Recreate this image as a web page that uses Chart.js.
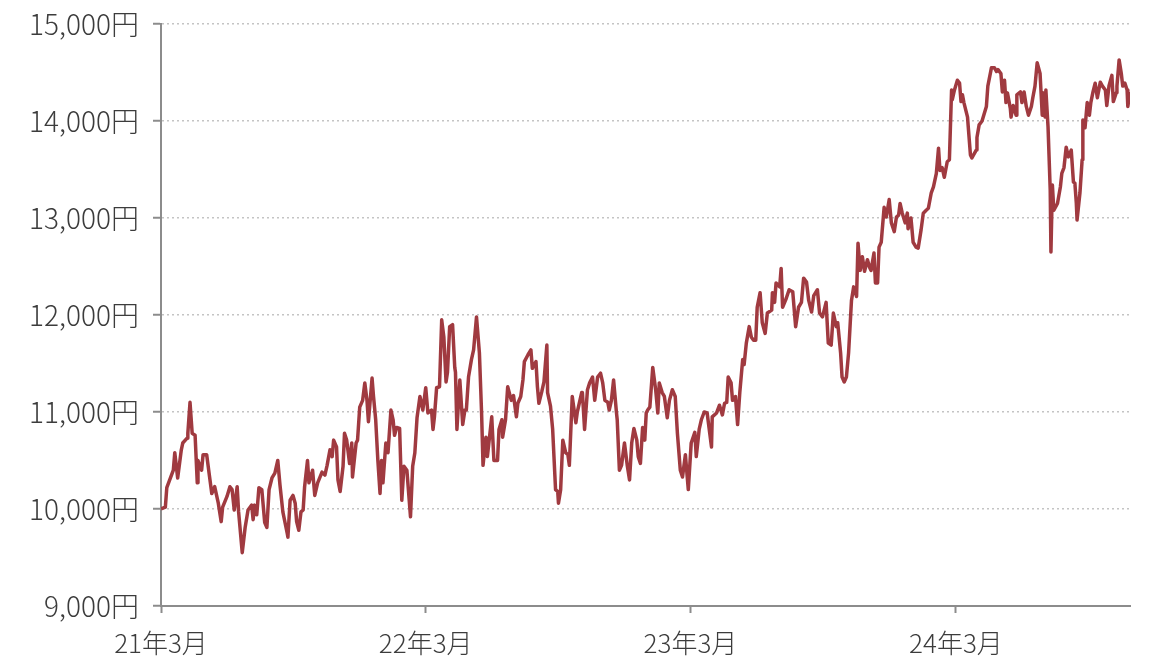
<!DOCTYPE html>
<html lang="ja">
<head>
<meta charset="utf-8">
<title>基準価額の推移</title>
<script src="https://cdn.jsdelivr.net/npm/chart.js@4.4.1/dist/chart.umd.min.js"></script>
<style>
  html, body { margin: 0; padding: 0; background: #fff; }
  #wrap { width: 1171px; height: 665px; position: relative; }
</style>
</head>
<body>
<div id="wrap"><canvas id="myChart"></canvas></div>
<script>
// days since 2021-03 start
const days = [
  0,6,8,12,17,19,23,28,30,36,37,40,43,47,50,51,56,58,63,67,70,74,79,83,85,91,95,98,101,105,107,112,116,120,125,127,129,132,135,139,143,146,149,153,157,161,164,168,174,175,178,182,185,187,190,193,196,198,202,204,208,209,212,216,222,226,
  229,233,236,238,242,244,247,251,253,256,260,263,264,269,271,274,278,281,284,286,291,293,296,299,302,304,306,310,313,317,320,322,325,329,332,335,339,344,347,350,353,357,361,365,368,373,375,377,380,384,387,390,393,395,398,402,405,406,408,412,416,419,421,424,428,431,435,439,442,444,448,450,
  456,459,464,466,470,471,475,478,483,486,490,492,496,499,501,506,510,512,517,519,521,525,528,532,533,537,540,544,547,548,551,554,558,561,563,567,572,574,580,581,584,588,591,595,598,602,606,609,612,616,618,621,624,628,629,632,635,639,643,646,649,652,656,658,661,664,667,669,671,674,
  678,682,685,687,691,694,698,701,705,709,712,716,719,723,727,731,736,738,742,745,749,753,759,760,766,770,774,777,780,782,786,788,792,795,798,802,804,807,811,814,817,820,822,826,829,833,836,842,843,846,848,853,855,857,862,866,871,875,879,883,886,890,893,897,900,905,
  908,912,917,920,924,927,931,933,937,939,942,945,948,952,955,959,961,964,967,970,974,977,979,983,985,988,990,993,997,1000,1004,1007,1011,1014,1017,1019,1022,1026,1029,1030,1034,1037,1041,1044,1048,1051,1055,1058,1062,1065,1069,1072,1074,1077,1080,1084,1087,1090,1091,1094,1098,1101,1103,1105,1107,1112,1113,1116,1118,1124,1125,1128,
  1132,1138,1140,1145,1149,1152,1154,1158,1160,1163,1165,1167,1171,1172,1175,1179,1180,1185,1187,1190,1193,1196,1200,1202,1205,1208,1212,1215,1216,1219,1220,1223,1226,1227,1229,1231,1236,1240,1242,1245,1248,1251,1255,1258,1260,1262,1263,1267,1270,1271,1274,1277,1280,1282,1285,1288,1291,1295,1298,1302,1304,1307,1311,1313,1317,1318,1321,1324,1326,1329,1332,1333,1336
];

// price in yen
const prices = [
  10000,10020,10220,10300,10400,10580,10320,10610,10680,10730,10780,11100,10780,10760,10270,10500,10400,10560,10560,10330,10160,10230,10060,9870,10020,10130,10230,10200,9990,10230,9970,9550,9810,9990,10040,9890,10040,9940,10220,10200,9860,9810,10200,10320,10370,10500,10250,9970,9750,9710,10090,10140,10060,9870,9780,9970,9990,10230,10500,10270,10370,10400,10140,10270,10380,10350,
  10450,10610,10540,10710,10640,10300,10180,10440,10780,10710,10470,10680,10330,10680,10710,11050,11120,11300,11120,10900,11350,11160,10920,10500,10160,10500,10270,10680,10580,11020,10920,10760,10840,10830,10090,10440,10400,9920,10440,10580,10940,11160,11020,11250,10990,11020,10820,10950,11250,11260,11950,11770,11310,11410,11880,11900,11460,11410,10820,11330,10870,11020,11020,11360,11540,11640,11980,11610,10990,10450,10740,10540,
  10950,10500,10500,10820,10920,10740,10920,11260,11120,11170,10950,11090,11160,11330,11520,11590,11640,11450,11520,11260,11090,11210,11310,11690,11200,11060,10820,10200,10180,10060,10200,10710,10580,10560,10450,11160,10890,11000,11200,11200,10820,11230,11300,11360,11120,11360,11400,11300,11120,11100,11020,11120,11330,10990,10920,10400,10450,10680,10440,10300,10680,10830,10710,10540,10470,10840,10710,10990,11020,11050,
  11460,11230,10990,11300,11200,11160,10940,11120,11230,11160,10780,10400,10330,10560,10200,10680,10790,10540,10820,10920,11000,10990,10640,10950,10990,11070,10970,11090,11100,11360,11300,11120,11160,10870,11200,11540,11490,11710,11880,11770,11740,11740,12080,12230,11920,11810,12020,12050,12230,12130,12330,12290,12480,12080,12170,12260,12240,11880,12080,12130,12380,12340,12150,12030,12200,12260,
  12020,11980,12130,11710,11690,12020,11880,11920,11610,11360,11310,11360,11610,12150,12290,12190,12740,12460,12600,12450,12570,12490,12460,12640,12330,12330,12700,12750,13110,13010,13190,12950,12860,13010,13030,13150,13050,12950,13050,12890,13000,12750,12700,12690,12880,13050,13080,13100,13260,13320,13460,13720,13490,13520,13420,13580,13600,14320,14220,14320,14420,14390,14200,14270,14190,14040,13940,13650,13620,13700,13830,13960,
  14000,14150,14360,14550,14550,14510,14530,14490,14300,14420,14190,14290,14130,14040,14160,14060,14270,14300,14190,14300,14150,14060,14150,14240,14360,14600,14490,14060,14290,14040,14320,13940,13290,12650,13340,13080,13150,13320,13460,13520,13730,13630,13700,13370,13360,13150,12980,13260,13600,14010,13930,14190,14060,14190,14300,14390,14240,14400,14360,14320,14160,14360,14470,14200,14290,14360,14630,14490,14360,14390,14320,14150,14300
];

// x tick positions (days) and their labels
const tickDays = [0, 365, 730, 1096];
const tickLabels = ['21年3月', '22年3月', '23年3月', '24年3月'];

const lastDay = 1336;

function yen(v) {
  return String(v).replace(/\B(?=(\d{3})+(?!\d))/g, ',') + '円';
}

window.onload = function() {
  const ctx = document.getElementById('myChart').getContext('2d');
  const fontFamily = "'Noto Sans CJK JP', 'Noto Sans', sans-serif";

  new Chart(ctx, {
    type: 'line',
    data: {
      datasets: [{
        data: days.map((d, i) => ({ x: d, y: prices[i] })),
        borderColor: '#a03a40',
        borderWidth: 3.5,
        borderJoinStyle: 'round',
        pointRadius: 0,
        tension: 0,
        fill: false
      }]
    },
    options: {
      responsive: true,
      maintainAspectRatio: false,
      animation: false,
      layout: { padding: { top: 24, right: 41, bottom: 0, left: 0 } },
      plugins: { legend: { display: false }, tooltip: { enabled: false } },
      scales: {
        x: {
          type: 'linear',
          min: 0,
          max: lastDay,
          afterBuildTicks: (scale) => {
            scale.ticks = tickDays.map(v => ({ value: v }));
          },
          afterFit: (scale) => {
            scale.height = 59;
            scale.paddingLeft = 0;
            scale.paddingRight = 0;
          },
          border: { display: true, color: '#8c8c8c', width: 2 },
          grid: {
            drawOnChartArea: false,
            drawTicks: true,
            tickLength: 7,
            tickColor: '#8c8c8c',
            tickWidth: 2
          },
          ticks: {
            autoSkip: false,
            maxRotation: 0,
            padding: 15,
            color: '#3c3c3c',
            font: { family: fontFamily, size: 26, weight: 300 },
            callback: (v, i) => tickLabels[i]
          }
        },
        y: {
          min: 9000,
          max: 15000,
          afterFit: (scale) => {
            scale.width = 161;
            scale.paddingTop = 0;
            scale.paddingBottom = 0;
          },
          border: { display: true, color: '#8c8c8c', width: 2, dash: [2, 3] },
          grid: {
            color: '#c4c4c4',
            lineWidth: 1.5,
            drawTicks: true,
            tickLength: 8,
            tickColor: '#8c8c8c',
            tickWidth: 2,
            tickBorderDash: []
          },
          ticks: {
            stepSize: 1000,
            padding: 14,
            color: '#3c3c3c',
            font: { family: fontFamily, size: 28, weight: 300 },
            callback: (v) => yen(v)
          }
        }
      }
    }
  });
};
</script>
</body>
</html>
